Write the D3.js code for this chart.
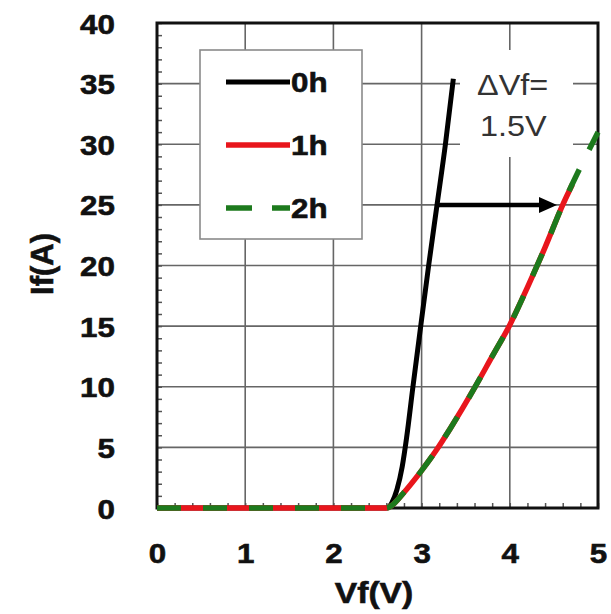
<!DOCTYPE html>
<html>
<head>
<meta charset="utf-8">
<script src="https://cdn.jsdelivr.net/npm/d3@7"></script>
<style>
  html, body { margin: 0; padding: 0; background: #fff; }
  svg { display: block; font-family: Arial, "Liberation Sans", sans-serif; }
</style>
</head>
<body>
<svg id="chart" width="611" height="614"></svg>
<script>
// Forward I-V curves of the device after 0 h, 1 h and 2 h of stress
const series0h = [
  [0, 0], [2.6, 0], [2.66, 0.4], [2.72, 1.5], [2.78, 3.4], [2.83, 5.8],
  [2.9, 9.9], [2.99, 15], [3.08, 20], [3.175, 25], [3.27, 30], [3.36, 35.4]
];
const series1h = [
  [0, 0], [2.6, 0], [2.66, 0.2], [2.79, 1.2], [2.98, 2.9], [3.17, 4.8], [3.32, 6.5],
  [3.6, 9.9], [3.8, 12.5], [4.0, 15.1], [4.2, 18.2], [4.4, 21.5], [4.6, 25], [4.71, 26.7]
];
const series2h = [
  [0, 0], [2.6, 0], [2.66, 0.2], [2.79, 1.2], [2.98, 2.9], [3.17, 4.8], [3.32, 6.5],
  [3.6, 9.9], [3.8, 12.5], [4.0, 15.1], [4.2, 18.2], [4.4, 21.5], [4.6, 25], [4.8, 28.1], [5.0, 31]
];
const seriesNames = ["0h", "1h", "2h"];
const xTicks = [0, 1, 2, 3, 4, 5];
const yTicks = [0, 5, 10, 15, 20, 25, 30, 35, 40];
const xMinorTicks = d3.range(0, 5.001, 0.2);
const yMinorTicks = d3.range(0, 40.001, 1);
// Horizontal shift arrow: from the 0h curve to the shifted curve at If = 25 A
const shiftArrow = { from: 3.175, to: 4.535, at: 25 };
const shiftLabel = ["\u0394Vf=", "1.5V"];

const svg = d3.select("#chart");
const x = d3.scaleLinear().domain([0, 5]).range([157, 598]);
const y = d3.scaleLinear().domain([0, 40]).range([508, 23]);
const SX = 1.12; // slightly wide lettering

// grid
const grid = svg.append("g");
grid.selectAll("line.gx").data(xTicks.slice(1, -1)).join("line")
  .attr("x1", d => x(d)).attr("x2", d => x(d))
  .attr("y1", y(40)).attr("y2", y(0))
  .attr("stroke", "#666").attr("stroke-width", 1.6);
grid.selectAll("line.gy").data(yTicks.slice(1, -1)).join("line")
  .attr("x1", x(0)).attr("x2", x(5))
  .attr("y1", d => y(d)).attr("y2", d => y(d))
  .attr("stroke", "#666").attr("stroke-width", 1.6);

// white panels behind the legend and the annotation
svg.append("rect").attr("x", 200).attr("y", 50).attr("width", 162).attr("height", 189)
  .attr("fill", "#fff").attr("stroke", "#8a8a8a").attr("stroke-width", 1.6);
svg.append("rect").attr("x", 460).attr("y", 50).attr("width", 113).attr("height", 107)
  .attr("fill", "#fff");

// minor ticks
const minorX = d3.axisBottom(x).tickValues(xMinorTicks).tickSize(-5).tickFormat("");
const minorY = d3.axisLeft(y).tickValues(yMinorTicks).tickSize(-5).tickFormat("");
const gmx = svg.append("g").attr("transform", `translate(0,${y(0)})`).call(minorX);
const gmy = svg.append("g").attr("transform", `translate(${x(0)},0)`).call(minorY);
[gmx, gmy].forEach(g => {
  g.select(".domain").remove();
  g.selectAll(".tick line").attr("stroke", "#555").attr("stroke-width", 1.5);
});

// tick labels
const axX = d3.axisBottom(x).tickValues(xTicks).tickSize(0).tickFormat(d3.format("d"));
const axY = d3.axisLeft(y).tickValues(yTicks).tickSize(0).tickFormat(d3.format("d"));
const gx = svg.append("g").attr("transform", `translate(0,${y(0)})`).call(axX);
const gy = svg.append("g").attr("transform", `translate(${x(0)},0)`).call(axY);
[gx, gy].forEach(g => {
  g.select(".domain").remove();
  g.selectAll(".tick text").attr("fill", "#111").attr("font-size", 28)
    .attr("font-weight", "bold").attr("font-family", "Arial, 'Liberation Sans', sans-serif")
    .attr("stroke", "#111").attr("stroke-width", 0.6);
});
gx.selectAll(".tick text").attr("y", 0).attr("dy", 0)
  .attr("transform", `translate(0,55) scale(${SX},1)`);
gy.selectAll(".tick text").attr("x", 0).attr("dy", "0.36em")
  .attr("transform", `translate(-42,0) scale(${SX},1)`);

// frame
svg.append("rect").attr("x", x(0)).attr("y", y(40))
  .attr("width", x(5) - x(0)).attr("height", y(0) - y(40))
  .attr("fill", "none").attr("stroke", "#111").attr("stroke-width", 3);

// axis titles
svg.append("text").attr("transform", `translate(374,603) scale(${SX},1)`)
  .attr("text-anchor", "middle").attr("font-size", 30).attr("font-weight", "bold")
  .attr("fill", "#111").attr("stroke", "#111").attr("stroke-width", 0.6).text("Vf(V)");
svg.append("text").attr("transform", "translate(53,264) rotate(-90)")
  .attr("text-anchor", "middle").attr("font-size", 31).attr("font-weight", "bold")
  .attr("fill", "#111").attr("stroke", "#111").attr("stroke-width", 0.6).text("If(A)");

// curves
const line = d3.line().x(d => x(d[0])).y(d => y(d[1])).curve(d3.curveMonotoneX);
const styles = [
  { data: series0h, color: "#000", width: 5, dash: null },
  { data: series1h, color: "#e8161c", width: 5.5, dash: null },
  { data: series2h, color: "#1d7a1d", width: 5.5, dash: "24,22" }
];
const plot = svg.append("g");
plot.selectAll("path").data(styles).join("path")
  .attr("d", d => line(d.data))
  .attr("fill", "none").attr("stroke", d => d.color)
  .attr("stroke-width", d => d.width)
  .attr("stroke-dasharray", d => d.dash)
  .attr("stroke-linejoin", "round");

// shift arrow
const ax0 = x(shiftArrow.from), ax1 = x(shiftArrow.to), ay = y(shiftArrow.at);
svg.append("line").attr("x1", ax0).attr("x2", ax1 - 14).attr("y1", ay).attr("y2", ay)
  .attr("stroke", "#000").attr("stroke-width", 4.5);
svg.append("path")
  .attr("d", `M${ax1},${ay} L${ax1 - 18},${ay - 8} L${ax1 - 18},${ay + 8} Z`)
  .attr("fill", "#000");

// annotation text
svg.append("text").attr("transform", `translate(477,95) scale(${SX},1)`)
  .attr("font-size", 29).attr("fill", "#333").text(shiftLabel[0]);
svg.append("text").attr("transform", `translate(480,136) scale(${SX},1)`)
  .attr("font-size", 29).attr("fill", "#333").text(shiftLabel[1]);

// legend
const legend = svg.append("g");
const legY = [82, 145, 208];
styles.forEach((s, i) => {
  legend.append("line").attr("x1", 226).attr("x2", 290)
    .attr("y1", legY[i]).attr("y2", legY[i])
    .attr("stroke", s.color).attr("stroke-width", s.width)
    .attr("stroke-dasharray", s.dash ? "26,20" : null);
  legend.append("text").attr("transform", `translate(291,${legY[i] + 10}) scale(${SX},1)`)
    .attr("font-size", 28).attr("font-weight", "bold").attr("fill", "#111")
    .attr("stroke", "#111").attr("stroke-width", 0.6)
    .text(seriesNames[i]);
});
</script>
</body>
</html>
